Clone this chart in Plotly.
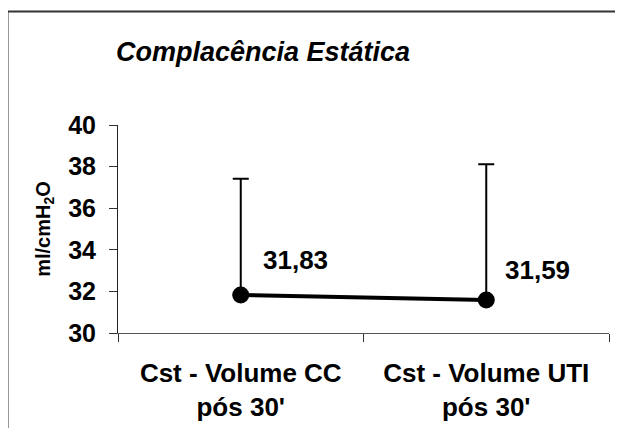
import plotly.graph_objects as go

categories = ["Cst - Volume CC<br>pós 30'", "Cst - Volume UTI<br>pós 30'"]
means = [31.83, 31.59]
upper_err = [5.59, 6.52]
lower_err = [0, 0]
y_ticks = [30, 32, 34, 36, 38, 40]
title_text = "Complacência Estática"
y_title = "ml/cmH<sub>2</sub>O"

FONT = "Liberation Sans, Arial, sans-serif"
OFF = 8  # page body margin
W, H = 623 - OFF, 428 - OFF
L, T = 118 - OFF, 125 - OFF
R = W - (609 - OFF)
B = H - (333 - OFF)
pw, ph = W - L - R, H - T - B

def px_to_paper_x(px):
    return (px - OFF - L) / pw

def px_to_paper_y(py):
    return (H - B - (py - OFF)) / ph

fig = go.Figure()
fig.add_trace(go.Scatter(
    x=categories, y=means,
    mode="lines+markers",
    line=dict(color="black", width=4),
    marker=dict(color="black", size=17),
    error_y=dict(type="data", symmetric=False, array=upper_err, arrayminus=lower_err,
                 color="black", thickness=2, width=8),
    showlegend=False,
    cliponaxis=False,
))

label_shifts = [(20, 35), (17, 30)]
for c, v, (dx, dy) in zip(categories, means, label_shifts):
    fig.add_annotation(
        x=c, y=v, xref="x", yref="y",
        text=f"{v:.2f}".replace(".", ","),
        showarrow=False, xanchor="left", yanchor="middle",
        xshift=dx, yshift=dy,
        font=dict(family=FONT, size=26, color="black", weight="bold"),
    )

fig.add_shape(
    type="rect", xref="paper", yref="paper",
    x0=px_to_paper_x(7.5), x1=px_to_paper_x(640),
    y0=px_to_paper_y(445), y1=px_to_paper_y(11.5),
    line=dict(color="#333333", width=2), fillcolor="rgba(0,0,0,0)", layer="below",
)

fig.update_layout(
    width=W, height=H,
    margin=dict(l=L, r=R, t=T, b=B, autoexpand=False),
    paper_bgcolor="white", plot_bgcolor="white",
    title=dict(text=title_text, x=(263 - OFF) / W, xanchor="center", xref="container",
               y=1 - (52 - OFF) / H, yanchor="middle", yref="container",
               font=dict(family=FONT, size=27, color="black", weight="bold", style="italic")),
    xaxis=dict(
        type="category", range=[-0.5, 1.5], tickson="boundaries",
        ticks="outside", ticklen=8, tickcolor="#333", tickwidth=1,
        showline=True, linecolor="#555", linewidth=1, showgrid=False,
        tickfont=dict(family=FONT, size=26, color="black", weight="bold"),
        ticklabelstandoff=17,
    ),
    yaxis=dict(
        range=[30, 40], tickvals=y_ticks,
        ticks="outside", ticklen=8, tickcolor="#333", tickwidth=1,
        showline=True, linecolor="#222", linewidth=1, showgrid=False, zeroline=False,
        tickfont=dict(family=FONT, size=25, color="black", weight="bold"),
        ticklabelstandoff=8,
        title=dict(text=y_title, standoff=12,
                   font=dict(family=FONT, size=20, color="black", weight="bold")),
    ),
)

fig.write_html("out.html")
